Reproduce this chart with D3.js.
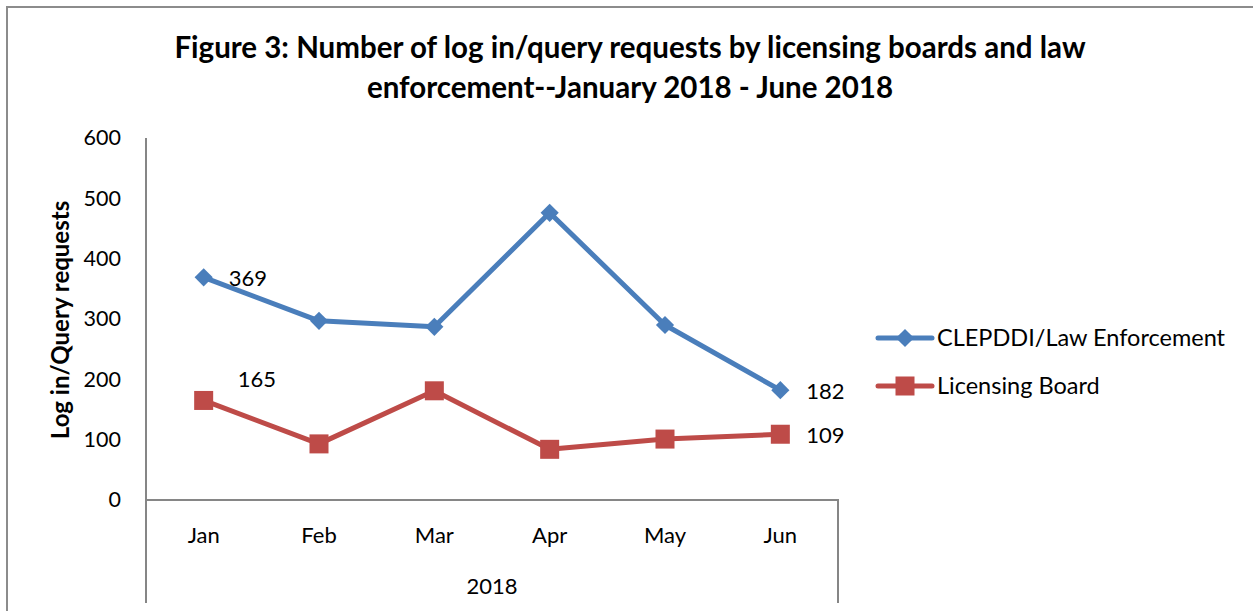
<!DOCTYPE html>
<html>
<head>
<meta charset="utf-8">
<script src="https://cdn.jsdelivr.net/npm/d3@7"></script>
<style>
  body { margin: 0; background: #fff; }
  svg { display: block; font-family: Lato, "Open Sans", sans-serif; }
</style>
</head>
<body>
<svg id="chart" width="1253" height="611"></svg>
<script>
const titleLines = ["Figure 3: Number of log in/query requests by licensing boards and law", "enforcement--January 2018 - June 2018"];
const months = ["Jan", "Feb", "Mar", "Apr", "May", "Jun"];
const yearLabel = "2018";
const yAxisTitle = "Log in/Query requests";
const yTicks = [0, 100, 200, 300, 400, 500, 600];
const seriesNames = ["CLEPDDI/Law Enforcement", "Licensing Board"];
const lawEnforcement = [369, 297, 287, 476, 290, 182];
const licensingBoard = [165, 93, 181, 84, 101, 109];

const svg = d3.select("#chart");
const colors = ["#4A7EBB", "#BE4B48"];
const axisColor = "#868686";

// outer border (top & left visible)
svg.append("path").attr("d", "M7,611 V7 H1253").attr("fill", "none").attr("stroke", "#8c8c8c").attr("stroke-width", 2);

// title
svg.append("text").attr("x", 630).attr("y", 58).attr("text-anchor", "middle")
  .attr("font-size", 29.5).attr("font-weight", "bold").attr("fill", "#000").text(titleLines[0]);
svg.append("text").attr("x", 630).attr("y", 98).attr("text-anchor", "middle")
  .attr("font-size", 29.5).attr("font-weight", "bold").attr("fill", "#000").text(titleLines[1]);

const x = d3.scaleBand().domain(months).range([146, 838]);
const y = d3.scaleLinear().domain([0, 600]).range([500, 138]);
const cx = m => x(m) + x.bandwidth() / 2;

// y axis
const yAxis = svg.append("g").attr("transform", "translate(146,0)")
  .call(d3.axisLeft(y).tickValues(yTicks).tickSize(0).tickPadding(25));
yAxis.select(".domain").remove();
yAxis.selectAll("text").attr("font-size", 21.5).attr("fill", "#000").attr("font-family", "Lato, sans-serif");
svg.append("line").attr("x1", 146).attr("x2", 146).attr("y1", 138).attr("y2", 603).attr("stroke", axisColor).attr("stroke-width", 2);

// x axis (multi-level)
const xAxis = svg.append("g").attr("transform", "translate(0,500)")
  .call(d3.axisBottom(x).tickSize(0).tickPadding(27));
xAxis.select(".domain").remove();
xAxis.selectAll("text").attr("font-size", 22).attr("fill", "#000").attr("font-family", "Lato, sans-serif");
svg.append("line").attr("x1", 146).attr("x2", 839).attr("y1", 500).attr("y2", 500).attr("stroke", axisColor).attr("stroke-width", 2);
svg.append("line").attr("x1", 838).attr("x2", 838).attr("y1", 500).attr("y2", 603).attr("stroke", axisColor).attr("stroke-width", 2);
svg.append("text").attr("x", (146 + 838) / 2).attr("y", 594).attr("text-anchor", "middle")
  .attr("font-size", 22).attr("fill", "#000").text(yearLabel);

// y axis title
svg.append("text").attr("transform", "translate(69,320) rotate(-90)").attr("text-anchor", "middle")
  .attr("font-size", 24).attr("font-weight", "bold").attr("fill", "#000").text(yAxisTitle);

const line = d3.line().x((d, i) => cx(months[i])).y(d => y(d));
const diamondPath = d3.symbol().type(d3.symbolSquare).size(165)();

function drawSeries(vals, color, marker) {
  svg.append("path").datum(vals).attr("d", line).attr("fill", "none")
    .attr("stroke", color).attr("stroke-width", 5).attr("stroke-linejoin", "round");
  const g = svg.append("g");
  vals.forEach((v, i) => {
    if (marker === "diamond") {
      g.append("path").attr("transform", `translate(${cx(months[i])},${y(v)}) rotate(45)`)
        .attr("d", diamondPath).attr("fill", color);
    } else {
      g.append("rect").attr("x", cx(months[i]) - 9.5).attr("y", y(v) - 9.5)
        .attr("width", 19).attr("height", 19).attr("fill", color);
    }
  });
}
drawSeries(lawEnforcement, colors[0], "diamond");
drawSeries(licensingBoard, colors[1], "square");

// data labels
const lab = (text, px, py) => svg.append("text").attr("x", px).attr("y", py)
  .attr("font-size", 22).attr("fill", "#000").text(text);
lab(lawEnforcement[0], cx(months[0]) + 25, y(lawEnforcement[0]) + 9);
lab(licensingBoard[0], cx(months[0]) + 34, y(licensingBoard[0]) - 13);
lab(lawEnforcement[5], cx(months[5]) + 26, y(lawEnforcement[5]) + 9);
lab(licensingBoard[5], cx(months[5]) + 26, y(licensingBoard[5]) + 9);

// legend
const legY = [338, 386];
seriesNames.forEach((name, i) => {
  svg.append("line").attr("x1", 878).attr("x2", 932).attr("y1", legY[i]).attr("y2", legY[i])
    .attr("stroke", colors[i]).attr("stroke-width", 5).attr("stroke-linecap", "round");
  if (i === 0) {
    svg.append("path").attr("transform", `translate(905,${legY[i]}) rotate(45)`)
      .attr("d", diamondPath).attr("fill", colors[i]);
  } else {
    svg.append("rect").attr("x", 895.5).attr("y", legY[i] - 9.5).attr("width", 19).attr("height", 19).attr("fill", colors[i]);
  }
  svg.append("text").attr("x", 937).attr("y", legY[i] + 8).attr("font-size", 23.5).attr("fill", "#000").text(name);
});
</script>
</body>
</html>
